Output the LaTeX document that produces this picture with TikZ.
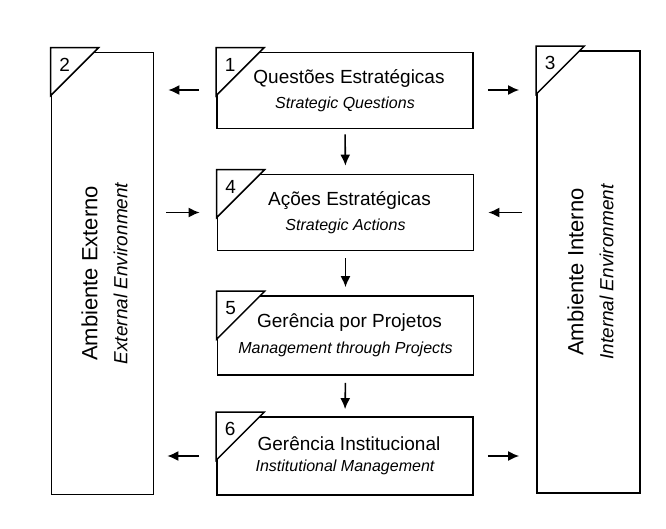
\documentclass[tikz,border=0pt]{standalone}
\usepackage{fontspec}
\setmainfont{Liberation Sans}
\usetikzlibrary{arrows.meta}
\newcommand\mymf{\fontsize{19}{22}\selectfont}
\newcommand\mysf{\fontsize{16}{19}\selectfont\itshape}
\newcommand\myvmf{\fontsize{22}{26}\selectfont}
\newcommand\myvsf{\fontsize{19}{23}\selectfont\itshape}
\begin{document}
\begin{tikzpicture}[x=1pt,y=-1pt,
  box/.style={draw,line width=1.7pt,fill=white,inner sep=0pt},
  midbox/.style={box,minimum width=256pt,minimum height=76pt,align=center},
  sidebox/.style={box,minimum width=102pt,minimum height=442pt},
  tab/.style={draw,line width=1.5pt,fill=white,line join=miter},
  num/.style={font=\fontsize{19}{19}\selectfont,inner sep=0pt},
  arr/.style={line width=1.6pt,-{Latex[length=11pt,width=10pt]}},
]
\useasboundingbox (0,0) rectangle (666,528);

% side boxes
\node[sidebox] (b2) at (102.5,273.5) {};
\node[sidebox,minimum width=103pt] (b3) at (588.5,272) {};
\node[rotate=90,align=center,inner sep=0pt] (t2) at ([xshift=2pt]b2.center) {{\myvmf Ambiente Externo}\\[15pt]{\myvsf External Environment}};
\node[rotate=90,align=center,inner sep=0pt] (t3) at ([xshift=2pt]b3.center) {{\myvmf Ambiente Interno}\\[15pt]{\myvsf Internal Environment}};

% middle boxes
\node[midbox] (b1) at (345,90.5) {\hspace*{8pt}{\mymf Questões Estratégicas}\\[9pt]{\mysf Strategic Questions}};
\node[midbox] (b4) at (345.5,212.5) {\hspace*{8pt}{\mymf Ações Estratégicas}\\[9pt]{\mysf Strategic Actions}};
\node[midbox,minimum height=79pt] (b5) at (345.5,335.5) {\hspace*{8pt}{\mymf Gerência por Projetos}\\[9pt]{\mysf Management through Projects}};
\node[midbox,minimum height=78pt] (b6) at (345,456) {\hspace*{8pt}{\mymf Gerência Institucional}\\[9pt]{\mysf Institutional Management}};

% tabs with numbers
\foreach \b/\n in {b1/1,b2/2,b3/3,b4/4,b5/5,b6/6}{
  \draw[tab] (\b.north west) ++(0,-4) -- ++(48,0) -- ++(-48,48) -- cycle;
  \node[num] (n\n) at ([shift={(14,13)}]\b.north west) {\n};
}

% arrows
\draw[arr,shorten <=17pt,shorten >=14pt] (b1.west |- 0,90) -- (b2.east |- 0,90);
\draw[arr,shorten <=14pt,shorten >=17pt] (b1.east |- 0,90) -- (b3.west |- 0,90);
\draw[arr,shorten <=5pt,shorten >=8pt] (b1.south) -- (b4.north);
\draw[arr,shorten <=7pt,shorten >=8pt] (b4.south) -- (b5.north);
\draw[arr,shorten <=7pt,shorten >=7pt] (b5.south) -- (b6.north);
\draw[arr,shorten <=12pt,shorten >=17pt] (b2.east |- b4.west) -- (b4.west);
\draw[arr,shorten <=14pt,shorten >=14pt] (b3.west |- b4.east) -- (b4.east);
\draw[arr,shorten <=17pt,shorten >=13pt] (b6.west) -- (b2.east |- b6.west);
\draw[arr,shorten <=14pt,shorten >=17pt] (b6.east) -- (b3.west |- b6.east);
\end{tikzpicture}
\end{document}
